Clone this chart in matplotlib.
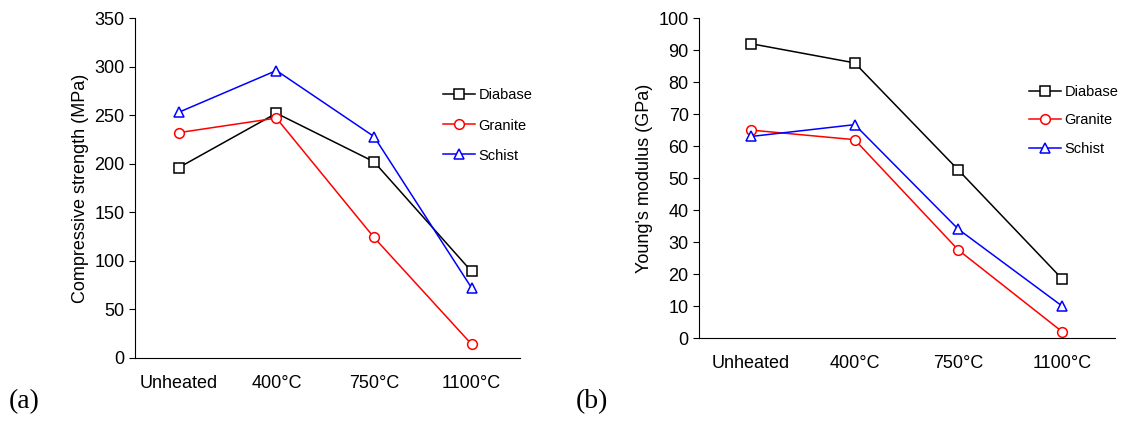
import matplotlib
matplotlib.use("Agg")
import matplotlib.pyplot as plt

categories = ["Unheated", "400°C", "750°C", "1100°C"]

# (a) compressive strength, MPa
ucs_diabase = [196, 252, 202, 89]
ucs_granite = [232, 247, 124, 14]
ucs_schist = [253, 296, 228, 72]

# (b) Young's modulus, GPa
e_diabase = [92, 86, 52.5, 18.5]
e_granite = [65, 62, 27.5, 2]
e_schist = [63, 66.7, 34, 10]

plt.rcParams["font.family"] = ["Liberation Sans", "DejaVu Sans"]

fig = plt.figure(figsize=(11.24, 4.21), dpi=100)
ax1 = fig.add_axes([0.120, 0.150, 0.343, 0.807])
ax2 = fig.add_axes([0.622, 0.197, 0.370, 0.760])


def draw(ax, d, g, s, ylim, step, ylabel, xlim, leg_anchor, spacing):
    x = range(len(categories))
    style = dict(lw=1.1, ms=7, mfc="white", mew=1.1)
    ax.plot(x, d, "-s", color="black", label="Diabase", **style)
    ax.plot(x, g, "-o", color="red", label="Granite", **style)
    ax.plot(x, s, "-^", color="blue", label="Schist", **style)
    ax.set_xlim(*xlim)
    ax.set_ylim(*ylim)
    ax.set_yticks(range(ylim[0], ylim[1] + 1, step))
    ax.set_xticks(list(x))
    ax.set_xticklabels(categories)
    ax.set_ylabel(ylabel, fontsize=13)
    ax.spines["top"].set_visible(False)
    ax.spines["right"].set_visible(False)
    ax.tick_params(axis="y", labelsize=13, length=4, direction="out")
    ax.tick_params(axis="x", labelsize=13, length=0, pad=12)
    ax.legend(loc="upper left", bbox_to_anchor=leg_anchor, frameon=False,
              fontsize=10.5, handlelength=2.2, labelspacing=spacing,
              handletextpad=0.2, borderaxespad=0)


draw(ax1, ucs_diabase, ucs_granite, ucs_schist, (0, 350), 50,
     "Compressive strength (MPa)", (-0.45, 3.5), (0.785, 0.81), 1.1)
draw(ax2, e_diabase, e_granite, e_schist, (0, 100), 10,
     "Young's modulus (GPa)", (-0.5, 3.51), (0.78, 0.81), 1.0)

fig.text(0.008, 0.03, "(a)", fontsize=20, family=["Liberation Serif", "DejaVu Serif"])
fig.text(0.512, 0.03, "(b)", fontsize=20, family=["Liberation Serif", "DejaVu Serif"])

fig.savefig("out.png", dpi=100)
